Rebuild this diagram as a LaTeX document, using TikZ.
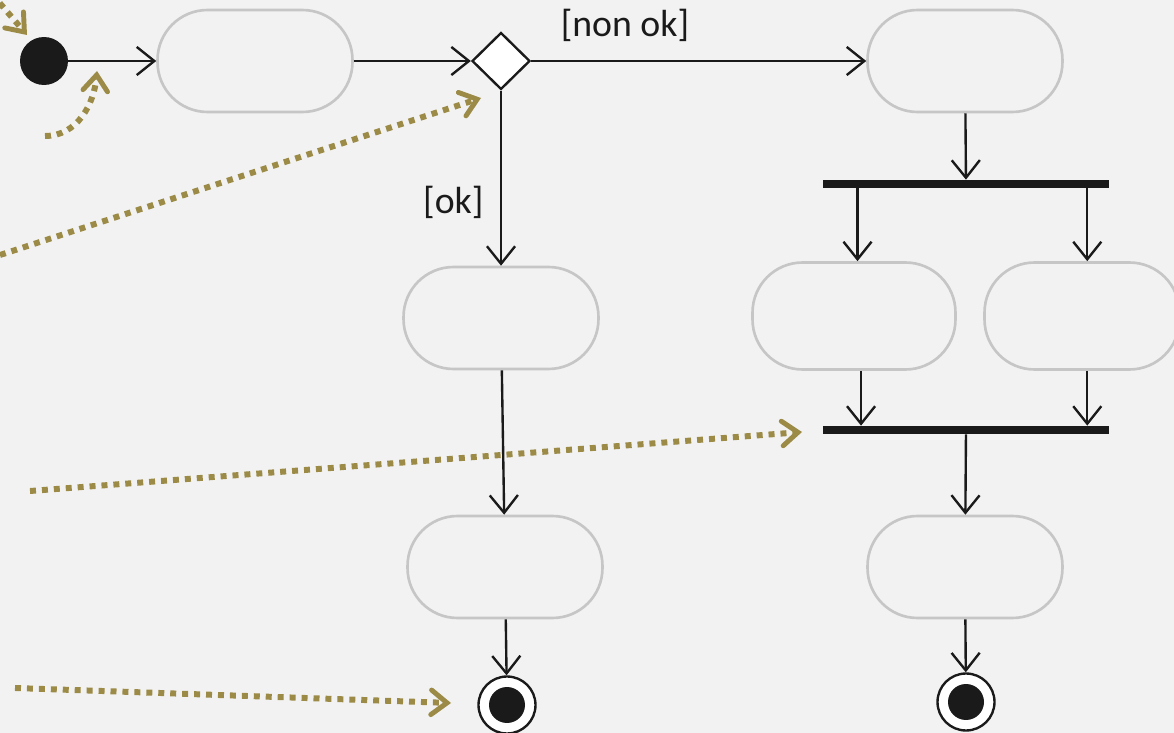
\documentclass[tikz,border=0pt]{standalone}
\usepackage{fontspec}
\setmainfont{Carlito}
\usetikzlibrary{arrows.meta,shapes.geometric}
\definecolor{paper}{HTML}{F2F2F2}
\definecolor{rim}{HTML}{C6C6C6}
\definecolor{ink}{HTML}{1A1A1A}
\definecolor{olive}{HTML}{9B8B47}

\begin{document}
\begin{tikzpicture}[x=0.02cm,y=-0.02cm,
    font=\fontsize{21.5}{26}\selectfont,text=ink,
    action/.style={draw=rim,line width=1.5pt,fill=paper,rounded corners=1cm,
                   minimum width=3.9cm,minimum height=2.04cm,inner sep=0pt},
    bar/.style={fill=ink,minimum width=5.74cm,minimum height=0.16cm,inner sep=0pt},
    flow/.style={draw=ink,line width=1.35pt,-{Straight Barb[length=10pt,width=16pt]}},
    hint/.style={draw=olive,line width=3.4pt,dash pattern=on 3.4pt off 3.4pt,
                 -{Straight Barb[length=9pt,width=14pt,line width=2.8pt,line cap=round]}}]
\useasboundingbox (0,0) rectangle (1174,733);
\clip (0,0) rectangle (1174,733);
\fill[paper] (0,0) rectangle (1174,733);

\path
      (  44, 61) node [circle,fill=ink,minimum size=0.96cm,inner sep=0pt] (start) {}
      ( 255, 61) node [action] (load)   {}
      ( 501, 61) node [diamond,draw=ink,fill=white,line width=1.35pt,
                       minimum width=1.16cm,minimum height=1.14cm,inner sep=0pt] (check) {}
      ( 965, 61) node [action] (retry)  {}
      ( 966,184) node [bar]    (fork)   {}
      ( 854,316) node [action,minimum width=4.06cm,minimum height=2.14cm] (left)  {}
      (1082,316) node [action,minimum height=2.14cm] (right) {}
      ( 966,430) node [bar]    (join)   {}
      ( 965,567) node [action] (merge)  {}
      ( 501,318) node [action] (accept) {}
      ( 505,567) node [action] (store)  {}
      ( 507,705) node [circle,draw=ink,fill=white,line width=1.35pt,minimum size=1.14cm] (endok)  {}
      ( 966,702) node [circle,draw=ink,fill=white,line width=1.35pt,minimum size=1.14cm] (endnok) {};
\fill[ink] (endok)  circle (0.36cm);
\fill[ink] (endnok) circle (0.36cm);

\draw[flow] (start) -- (load);
\draw[flow] (load)  -- (check);
\draw[flow] (check) -- node [pos=.28,above=7pt] {[non ok]} (retry);
\draw[flow] (check) -- node [pos=.64,left=6pt] {[ok]} (accept);
\draw[flow] (retry) -- (fork);
\draw[flow] ([xshift=2pt]fork.south -| left.north)  -- ([xshift=2pt]left.north);
\draw[flow] ([xshift=3pt]fork.south -| right.north) -- ([xshift=3pt]right.north);
\draw[flow] ([xshift=4pt]left.south)  -- ([xshift=4pt]left.south  |- join.north);
\draw[flow] ([xshift=3pt]right.south) -- ([xshift=3pt]right.south |- join.north);
\draw[flow] (join)   -- (merge);
\draw[flow] (merge)  -- (endnok);
\draw[flow] (accept) -- (store);
\draw[flow] (store)  -- (endok);

\coordinate (h1) at ( -8, -6);  \coordinate (t1) at ( 27, 35);
\coordinate (h2) at ( 45,136);  \coordinate (t2) at ( 97, 71);
\coordinate (h3) at (  0,255);  \coordinate (t3) at (481, 98);
\coordinate (h4) at ( 30,491);  \coordinate (t4) at (802,432);
\coordinate (h5) at ( 15,688);  \coordinate (t5) at (451,703);
\draw[hint] (h1) -- (t1);
\draw[hint] (h2) to[out=0,in=-95] (t2);
\draw[hint] (h3) -- (t3);
\draw[hint] (h4) -- (t4);
\draw[hint] (h5) -- (t5);
\end{tikzpicture}
\end{document}
